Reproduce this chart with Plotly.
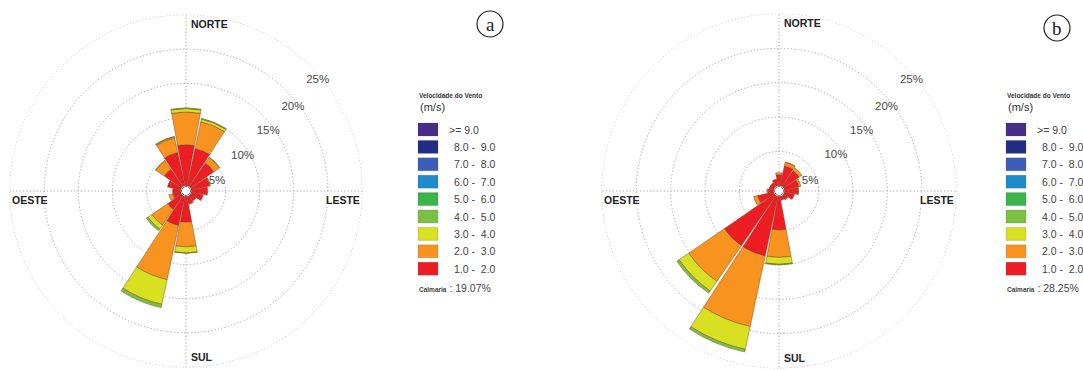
import plotly.graph_objects as go

W, H = 1083, 370

# ---------------- data ----------------
DIRECTIONS = ["N", "NNE", "NE", "ENE", "E", "ESE", "SE", "SSE",
              "S", "SSW", "SW", "WSW", "W", "WNW", "NW", "NNW"]
THETA_DEG = [0, 22.5, 45, 67.5, 90, 112.5, 135, 157.5,
             180, 202.5, 225, 247.5, 270, 292.5, 315, 337.5]

SPEED_CLASSES = ["1.0 -  2.0", "2.0 -  3.0", "3.0 -  4.0", "4.0 -  5.0",
                 "5.0 -  6.0", "6.0 -  7.0", "7.0 -  8.0", "8.0 -  9.0", ">= 9.0"]
CLASS_COLORS = ["#EE1D23", "#F7931E", "#D9E021", "#7AC143",
                "#39B54A", "#1E8BCB", "#3B5DB8", "#232C84", "#472C8A"]

# panel (a): frequency (%) per direction for each speed class
a_1_2 = [6.0, 5.6, 4.2, 2.8, 2.4, 1.8, 1.0, 1.2, 3.8, 4.4, 2.5, 1.2, 1.2, 2.0, 3.1, 5.0]
a_2_3 = [4.8, 4.0, 1.0, 0.1, 0.0, 0.0, 0.0, 0.0, 3.6, 8.1, 2.8, 0.6, 0.0, 0.0, 1.5, 2.2]
a_3_4 = [0.5, 0.4, 0.05, 0.0, 0.0, 0.0, 0.0, 0.0, 0.9, 3.7, 0.7, 0.0, 0.0, 0.0, 0.1, 0.15]
a_4_5 = [0.1, 0.1, 0.0, 0.0, 0.0, 0.0, 0.0, 0.0, 0.05, 0.5, 0.3, 0.0, 0.0, 0.0, 0.0, 0.05]
CALM_A = "19.07%"

# panel (b)
b_1_2 = [1.6, 3.0, 2.8, 2.2, 2.0, 1.5, 0.8, 0.6, 4.9, 8.9, 8.9, 2.4, 0.8, 0.7, 0.7, 1.0]
b_2_3 = [0.3, 0.5, 0.5, 0.3, 0.1, 0.0, 0.0, 0.0, 4.0, 10.5, 6.3, 0.6, 0.2, 0.0, 0.0, 0.0]
b_3_4 = [0.0, 0.05, 0.0, 0.0, 0.0, 0.0, 0.0, 0.0, 1.0, 3.4, 1.7, 0.0, 0.0, 0.0, 0.0, 0.0]
b_4_5 = [0.0, 0.0, 0.0, 0.0, 0.0, 0.0, 0.0, 0.0, 0.1, 0.4, 0.4, 0.0, 0.0, 0.0, 0.0, 0.0]
CALM_B = "28.25%"

RING_VALUES = [5, 10, 15, 20, 25]
RING_LABELS = ["5%", "10%", "15%", "20%", "25%"]
LEGEND_TITLE = "Velocidade do Vento"
LEGEND_UNIT = "(m/s)"

# ---------------- layout geometry ----------------
PANELS = [
    dict(polar="polar", series=[a_1_2, a_2_3, a_3_4, a_4_5], calm=CALM_A,
         cx=186, cy=191, R=176, leg_x=417, letter="a", lx=490, ly=24),
    dict(polar="polar2", series=[b_1_2, b_2_3, b_3_4, b_4_5], calm=CALM_B,
         cx=779, cy=191, R=177, leg_x=1005, letter="b", lx=1057, ly=28),
]
# where the ring labels sit (polar coordinates of each label's centre)
RING_LABEL_POS_R = [4.0, 9.0, 14.1, 19.1, 24.4]
RING_LABEL_POS_THETA = [72, 58, 54, 52, 50]

FONT = "Liberation Sans, Arial, sans-serif"
GRID = "#a0a0bc"
DOTS = "1.2px,2.2px"
fig = go.Figure()

def px(x):
    return x / W

def py(y):
    return (H - y) / H

shapes = []
annotations = []

for p in PANELS:
    for values, name, color in zip(p["series"], SPEED_CLASSES, CLASS_COLORS):
        fig.add_trace(go.Barpolar(
            r=values, theta=THETA_DEG, name=name, width=21,
            marker=dict(color=color, line=dict(color="rgba(110,70,40,0.75)", width=0.6)),
            subplot=p["polar"], showlegend=False, hoverinfo="skip"))

    # ring percentage labels
    fig.add_trace(go.Scatterpolar(
        r=RING_LABEL_POS_R, theta=RING_LABEL_POS_THETA, text=RING_LABELS,
        mode="text", textposition="middle center",
        textfont=dict(family=FONT, size=11.5, color="#4a4a4a"),
        subplot=p["polar"], showlegend=False, hoverinfo="skip", cliponaxis=False))

    cx, cy, R = p["cx"], p["cy"], p["R"]
    polar_layout = dict(
        domain=dict(x=[px(cx - R), px(cx + R)], y=[py(cy + R), py(cy - R)]),
        bgcolor="white", hole=0.03, barmode="stack",
        radialaxis=dict(range=[0, 25], tickvals=RING_VALUES, showticklabels=False,
                        showline=False, ticks="",
                        showgrid=True, gridcolor=GRID, gridwidth=0.8, griddash=DOTS),
        angularaxis=dict(rotation=90, direction="clockwise", tickvals=[0, 90, 180, 270],
                         showticklabels=False, ticks="", showline=False,
                         showgrid=True, gridcolor=GRID, gridwidth=0.8, griddash=DOTS),
    )
    fig.update_layout(**{p["polar"]: polar_layout})

    # outer 25% ring (dotted, same style as the grid)
    shapes.append(dict(type="circle", xref="paper", yref="paper", layer="below",
                       x0=px(cx - R), x1=px(cx + R), y0=py(cy + R), y1=py(cy - R),
                       line=dict(color=GRID, width=0.8, dash=DOTS)))

    # cardinal labels
    lab_font = dict(family=FONT, size=10.5, color="#222")
    card = [
        dict(x=px(cx + 4), y=py(cy - R + 9), text="<b>NORTE</b>", xanchor="left", yanchor="middle"),
        dict(x=px(cx + R - 1), y=py(cy + 9), text="<b>LESTE</b>", xanchor="right", yanchor="middle"),
        dict(x=px(cx + 4), y=py(cy + R - 10), text="<b>SUL</b>", xanchor="left", yanchor="middle"),
        dict(x=px(cx - R + 1), y=py(cy + 9), text="<b>OESTE</b>", xanchor="left", yanchor="middle"),
    ]
    for a in card:
        a.update(xref="paper", yref="paper", showarrow=False, font=lab_font, bgcolor="white", borderpad=0)
    annotations += card

    # centre circle
    shapes.append(dict(type="circle", xref="paper", yref="paper",
                       x0=px(cx - 4.5), x1=px(cx + 4.5), y0=py(cy + 4.5), y1=py(cy - 4.5),
                       fillcolor="white", line=dict(color="#777", width=1)))

    # legend
    lx0 = p["leg_x"]
    annotations.append(dict(x=px(lx0), y=py(95), text="<b>" + LEGEND_TITLE + "</b>",
                            xanchor="left", yanchor="middle", xref="paper", yref="paper",
                            showarrow=False, font=dict(family=FONT, size=6.5, color="#333")))
    annotations.append(dict(x=px(lx0 + 1), y=py(107), text=LEGEND_UNIT,
                            xanchor="left", yanchor="middle", xref="paper", yref="paper",
                            showarrow=False, font=dict(family=FONT, size=11, color="#333")))
    for i, (name, color) in enumerate(zip(SPEED_CLASSES[::-1], CLASS_COLORS[::-1])):
        yc = 129.5 + i * 17.4
        shapes.append(dict(type="rect", xref="paper", yref="paper",
                           x0=px(lx0 + 1), x1=px(lx0 + 21), y0=py(yc + 6.5), y1=py(yc - 6.5),
                           fillcolor=color, line=dict(color="rgba(80,80,80,0.4)", width=0.5)))
        tx = lx0 + (30 if name.startswith(">=") else 35)
        annotations.append(dict(x=px(tx), y=py(yc), text=name, xanchor="left", yanchor="middle",
                                xref="paper", yref="paper", showarrow=False,
                                font=dict(family=FONT, size=10.5, color="#444")))
    annotations.append(dict(x=px(lx0), y=py(288),
                            text="<b><span style='font-size:6.5px'>Calmaria</span></b> : " + p["calm"],
                            xanchor="left", yanchor="middle", xref="paper", yref="paper",
                            showarrow=False, font=dict(family=FONT, size=10.5, color="#444")))

    # panel letter
    r0 = 13
    shapes.append(dict(type="circle", xref="paper", yref="paper",
                       x0=px(p["lx"] - r0), x1=px(p["lx"] + r0), y0=py(p["ly"] + r0), y1=py(p["ly"] - r0),
                       line=dict(color="#222", width=1.2), fillcolor="rgba(0,0,0,0)"))
    annotations.append(dict(x=px(p["lx"]), y=py(p["ly"] + 1), text=p["letter"], xref="paper", yref="paper",
                            showarrow=False, xanchor="center", yanchor="middle",
                            font=dict(family="Liberation Serif, DejaVu Serif, serif", size=19, color="#222")))

fig.update_layout(width=W, height=H, margin=dict(l=0, r=0, t=0, b=0),
                  paper_bgcolor="white", plot_bgcolor="white", showlegend=False,
                  shapes=shapes, annotations=annotations)

fig.write_html("out.html")
